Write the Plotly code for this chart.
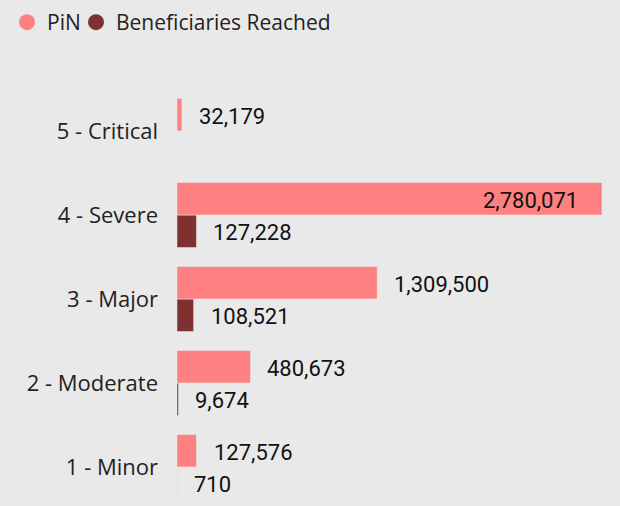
import plotly.graph_objects as go

categories = ["5 - Critical", "4 - Severe", "3 - Major", "2 - Moderate", "1 - Minor"]
pin = [32179, 2780071, 1309500, 480673, 127576]
reached = [None, 127228, 108521, 9674, 710]
series_names = ["PiN", "Beneficiaries Reached"]

PIN_COLOR = "#FF8080"
REACHED_COLOR = "#7F3030"
BG = "#E9E9E9"
CAT_FONT = "Open Sans"
VAL_FONT = "Roboto"

fig = go.Figure()
fig.add_trace(go.Bar(y=categories, x=reached, orientation="h", name=series_names[1],
                     marker_color=REACHED_COLOR, showlegend=False))
fig.add_trace(go.Bar(y=categories, x=pin, orientation="h", name=series_names[0],
                     marker_color=PIN_COLOR, showlegend=False))

fig.add_trace(go.Scatter(x=[None], y=[None], mode="markers", name=series_names[0],
                         marker=dict(symbol="circle", size=16, color=PIN_COLOR), legend="legend"))
fig.add_trace(go.Scatter(x=[None], y=[None], mode="markers", name=series_names[1],
                         marker=dict(symbol="circle", size=16, color=REACHED_COLOR), legend="legend2"))

xmax = max(pin)
val_font = dict(family=VAL_FONT, size=22, color="#111111")
annotations = []
for cat, v in zip(categories, pin):
    if v is None:
        continue
    inside = v == xmax
    annotations.append(dict(x=v, y=cat, xref="x", yref="y", text=f"{v:,}", showarrow=False,
                            xanchor="right" if inside else "left",
                            xshift=-22 if inside else 15, yshift=15, font=val_font))
for cat, v in zip(categories, reached):
    if v is None:
        continue
    annotations.append(dict(x=v, y=cat, xref="x", yref="y", text=f"{v:,}", showarrow=False,
                            xanchor="left", xshift=15, yshift=-17, font=val_font))

legend_common = dict(orientation="h", xref="container", yref="container",
                     xanchor="left", yanchor="top", y=1 - 2 / 506,
                     font=dict(family=CAT_FONT, size=21, color="#222222"),
                     itemsizing="trace", tracegroupgap=0, bgcolor="rgba(0,0,0,0)")

fig.update_layout(
    width=620, height=506,
    margin=dict(l=177, r=0, t=89, b=0),
    paper_bgcolor=BG, plot_bgcolor=BG,
    barmode="group", bargap=0.226, bargroupgap=0,
    annotations=annotations,
    legend=dict(x=7 / 620, **legend_common),
    legend2=dict(x=76 / 620, **legend_common),
    xaxis=dict(range=[0, xmax * 443 / 425], visible=False, fixedrange=True),
    yaxis=dict(categoryorder="array", categoryarray=categories[::-1],
               range=[-0.464, 4.5], showgrid=False, zeroline=False, showline=False,
               ticks="", ticklabelstandoff=18,
               tickfont=dict(family=CAT_FONT, size=22, color="#222222")),
    showlegend=True,
)

fig.write_html("out.html", config={"displayModeBar": False},
               post_script="document.body.style.margin='0';document.body.style.overflow='hidden';")
